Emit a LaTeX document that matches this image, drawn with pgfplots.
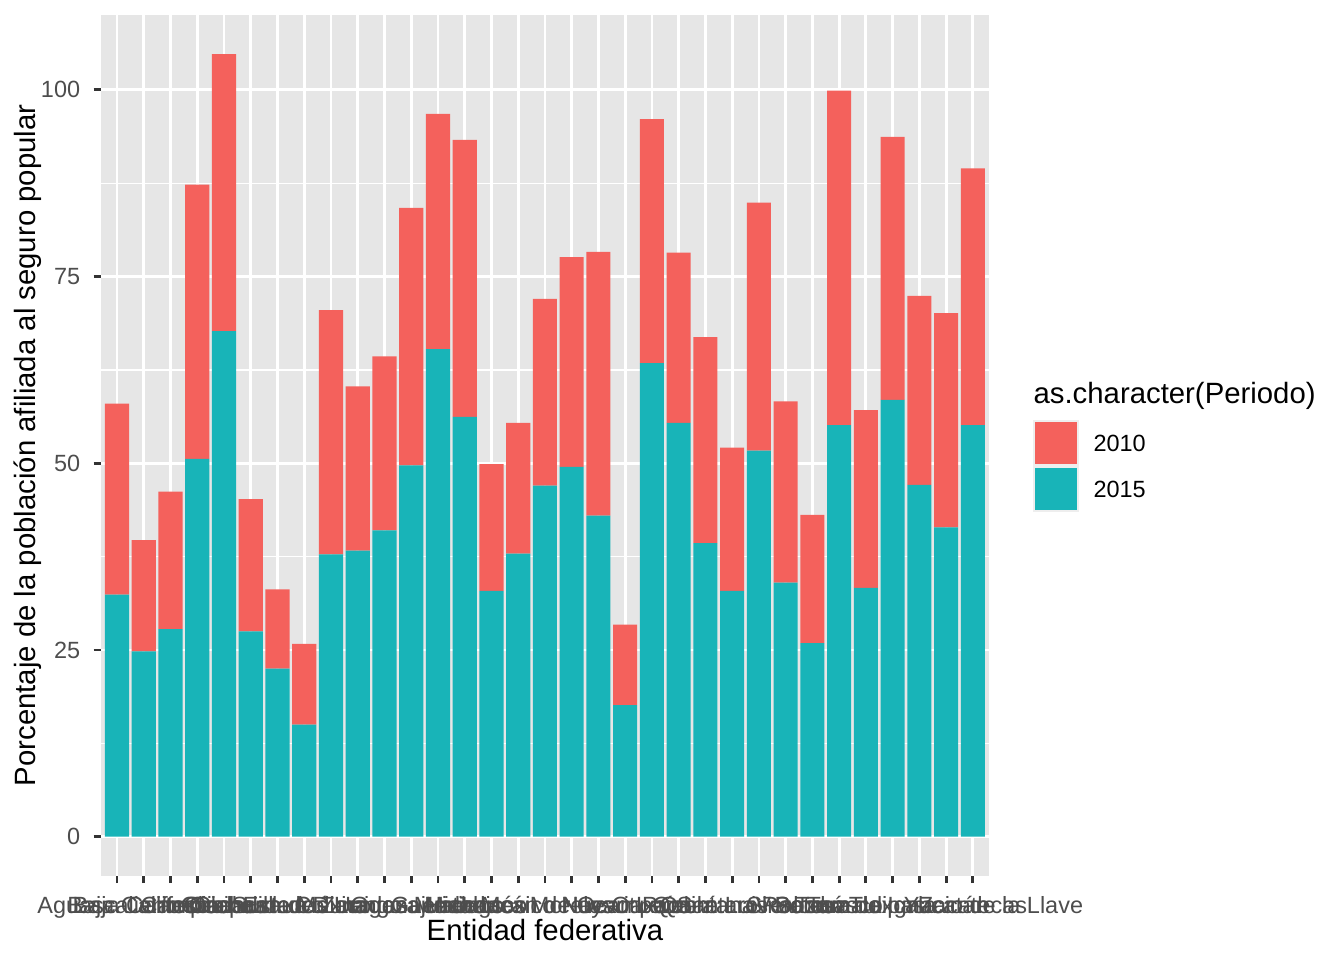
\documentclass[border=0pt]{standalone}
\usepackage{fontspec}
\setmainfont{Liberation Sans}
\usepackage{pgfplots}
\usepackage{pgfplotstable}
\pgfplotsset{compat=1.18}
\definecolor{red10}{HTML}{F4615C}
\definecolor{teal15}{HTML}{18B4B8}
\definecolor{panelbg}{HTML}{E6E6E6}
\definecolor{keybg}{HTML}{EEEEEE}
\definecolor{ticktext}{HTML}{4D4D4D}
\definecolor{tickline}{HTML}{333333}

\pgfplotstableread{
idx y2015 y2010
0  32.4 25.6
1  24.8 14.9
2  27.8 18.4
3  50.6 36.7
4  67.7 37.1
5  27.5 17.7
6  22.5 10.6
7  15.0 10.8
8  37.8 32.7
9  38.3 22.0
10 41.0 23.3
11 49.7 34.5
12 65.3 31.5
13 56.2 37.1
14 32.9 17.0
15 37.9 17.5
16 47.0 25.0
17 49.5 28.1
18 43.0 35.3
19 17.6 10.8
20 63.4 32.7
21 55.4 22.8
22 39.3 27.6
23 32.9 19.2
24 51.7 33.2
25 34.0 24.3
26 25.9 17.2
27 55.1 44.8
28 33.3 23.8
29 58.5 35.2
30 47.1 25.3
31 41.4 28.7
32 55.1 34.4
}\datatable

\begin{document}
\begin{tikzpicture}[x=1pt,y=1pt]
\path[use as bounding box] (0,0) rectangle (504,360);
\begin{axis}[
  at={(37.86pt,31.6pt)}, anchor=south west,
  scale only axis, width=333pt, height=322.8pt,
  xmin=-0.6, xmax=32.6, ymin=-5.24, ymax=110.04,
  ybar stacked, bar width=0.9,
  axis background/.style={fill=panelbg},
  axis line style={draw=none},
  tick pos=left, tick align=outside,
  major tick length=2.75pt, minor tick length=0pt,
  tick style={tickline, line width=1.07pt},
  xtick={0,...,32},
  xticklabels={Aguascalientes,Baja California,Baja California Sur,Campeche,Chiapas,Chihuahua,Ciudad de México,Coahuila de Zaragoza,Colima,Durango,Estados Unidos Mexicanos,Guanajuato,Guerrero,Hidalgo,Jalisco,México,Michoacán de Ocampo,Morelos,Nayarit,Nuevo León,Oaxaca,Puebla,Querétaro,Quintana Roo,San Luis Potosí,Sinaloa,Sonora,Tabasco,Tamaulipas,Tlaxcala,Veracruz de Ignacio de la Llave,Yucatán,Zacatecas},
  ytick={0,25,50,75,100},
  minor ytick={12.5,37.5,62.5,87.5},
  xmajorgrids, ymajorgrids, yminorgrids,
  major grid style={white, line width=1.07pt},
  minor grid style={white, line width=0.53pt},
  /pgf/number format/assume math mode=true,
  ticklabel style={font=\fontsize{8.8}{10}\selectfont, text=ticktext},
  xticklabel style={anchor=base, inner sep=0pt, yshift=-11.35pt},
  yticklabel style={anchor=east, inner sep=0pt, xshift=-4.86pt},
  xlabel={Entidad federativa},
  ylabel={Porcentaje de la población afiliada al seguro popular},
  xlabel style={font=\fontsize{11}{13}\selectfont, at={(axis description cs:0.5,-0.07466)}, anchor=base, inner sep=0pt},
  ylabel style={font=\fontsize{11}{13}\selectfont, at={(axis description cs:-0.07375,0.5)}, rotate=0, anchor=base, inner sep=0pt},
]
\addplot[fill=teal15, draw=none] table[x=idx, y=y2015] {\datatable};
\addplot[fill=red10, draw=none] table[x=idx, y=y2010] {\datatable};
\end{axis}
% legend
\node[anchor=base west, inner sep=0pt, font=\fontsize{11}{13}\selectfont] at (387.4,208.7) {as.character(Periodo)};
\fill[keybg] (387.4,185.25) rectangle (404.6,202.5);
\fill[red10] (388.1,186.0) rectangle (403.9,201.75);
\fill[keybg] (387.4,168.0) rectangle (404.6,185.25);
\fill[teal15] (388.1,168.75) rectangle (403.9,184.5);
\node[anchor=west, inner sep=0pt, font=\fontsize{8.8}{10}\selectfont] at (409.9,193.9) {2010};
\node[anchor=west, inner sep=0pt, font=\fontsize{8.8}{10}\selectfont] at (409.9,176.6) {2015};
\end{tikzpicture}
\end{document}
